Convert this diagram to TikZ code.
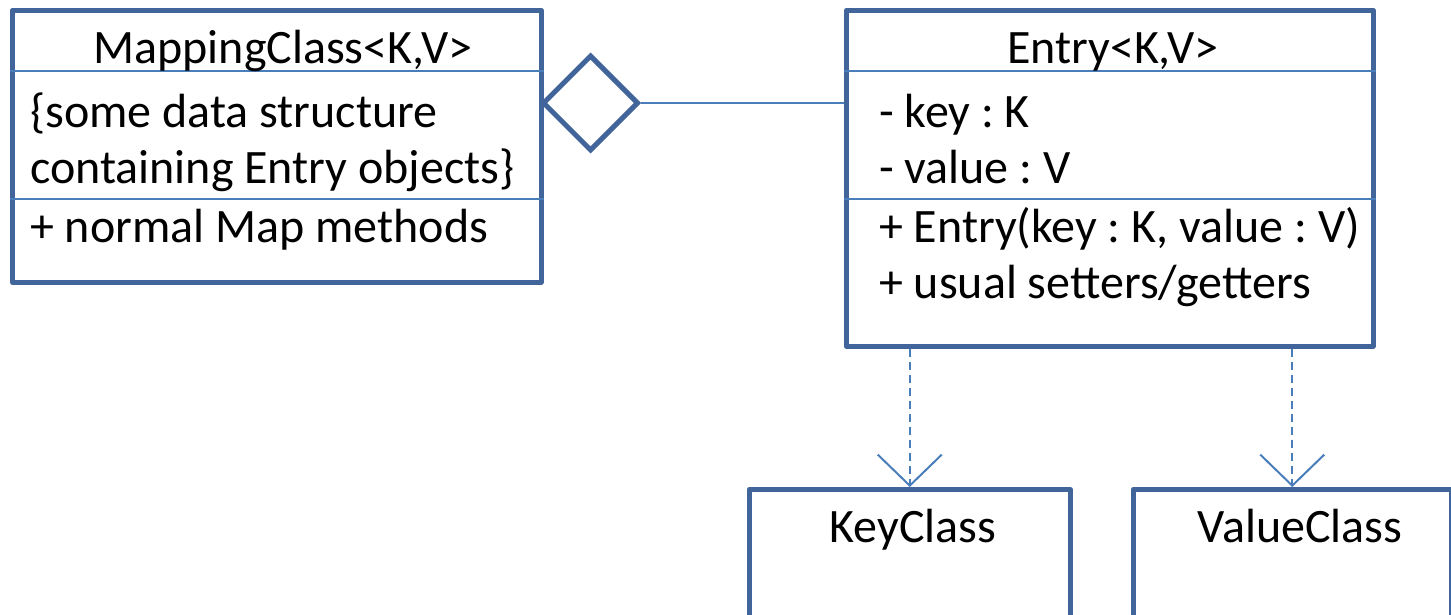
\documentclass[tikz,border=0pt]{standalone}
\usepackage{fontspec}
\setmainfont{Carlito}
\usetikzlibrary{shapes.geometric,arrows.meta}
\definecolor{boxblue}{HTML}{41659A}
\definecolor{lineblue}{HTML}{4A7EBB}
\tikzset{
  classbox/.style={draw=boxblue, line width=4.5pt, line join=round, inner sep=0pt, anchor=north west},
  sepline/.style={draw=lineblue, line width=2pt},
  txt/.style={inner sep=0pt, font=\fontsize{48}{57}\selectfont\frenchspacing},
  aggdiamond/.style={diamond, draw=boxblue, line width=5pt, minimum width=96pt, minimum height=96pt, inner sep=0pt, anchor=west},
  assoc/.style={draw=lineblue, line width=2pt},
  dep/.style={draw=lineblue, line width=2pt, dash pattern=on 8pt off 5pt, -{Straight Barb[length=31pt, width=64pt, line width=2pt]}}
}
\begin{document}
\begin{tikzpicture}[x=1pt,y=-1pt]
\useasboundingbox (0,0) rectangle (1451,614);
% boxes
\node[classbox, minimum width=529pt, minimum height=272pt] (map) at (10,8) {};
\node[classbox, minimum width=527pt, minimum height=336pt] (entry) at (844,8) {};
\node[classbox, minimum width=321pt, minimum height=160pt] (key) at (747,487) {};
\node[classbox, minimum width=318pt, minimum height=160pt] (value) at (1131,487) {};
% separators
\coordinate (m1) at (10,71); \coordinate (m2) at (10,199);
\coordinate (e1) at (844,71); \coordinate (e2) at (844,199);
\draw[sepline] (m1) -- (m1 -| map.east);
\draw[sepline] (m2) -- (m2 -| map.east);
\draw[sepline] (e1) -- (e1 -| entry.east);
\draw[sepline] (e2) -- (e2 -| entry.east);
% texts
\node[txt, anchor=base] (mt) at (283,63) {MappingClass<K,V>};
\node[txt, anchor=base west] (ma) at (30,127) {\{some data structure};
\node[txt, anchor=base west] (mb) at (30,183) {containing Entry objects\}};
\node[txt, anchor=base west] (mc) at (30,242) {+ normal Map methods};
\node[txt, anchor=base] (et) at (1113,63) {Entry<K,V>};
\node[txt, anchor=base west] (ea) at (879,127) {- key : K};
\node[txt, anchor=base west] (eb) at (879,183) {- value : V};
\node[txt, anchor=base west] (ec) at (879,242) {+ Entry(key : K, value : V)};
\node[txt, anchor=base west] (ed) at (879,298) {+ usual setters/getters};
\node[txt, anchor=base] (kt) at (913,542) {KeyClass};
\node[txt, anchor=base] (vt) at (1300,542) {ValueClass};
% aggregation
\coordinate (dstart) at (540,103);
\node[aggdiamond] (dia) at (dstart) {};
\draw[assoc] (dia.east) -- (dia.east -| entry.west);
% dependencies
\draw[dep] (entry.south -| key.north) -- (key.north);
\draw[dep] (entry.south -| value.north) -- (value.north);
\end{tikzpicture}
\end{document}
